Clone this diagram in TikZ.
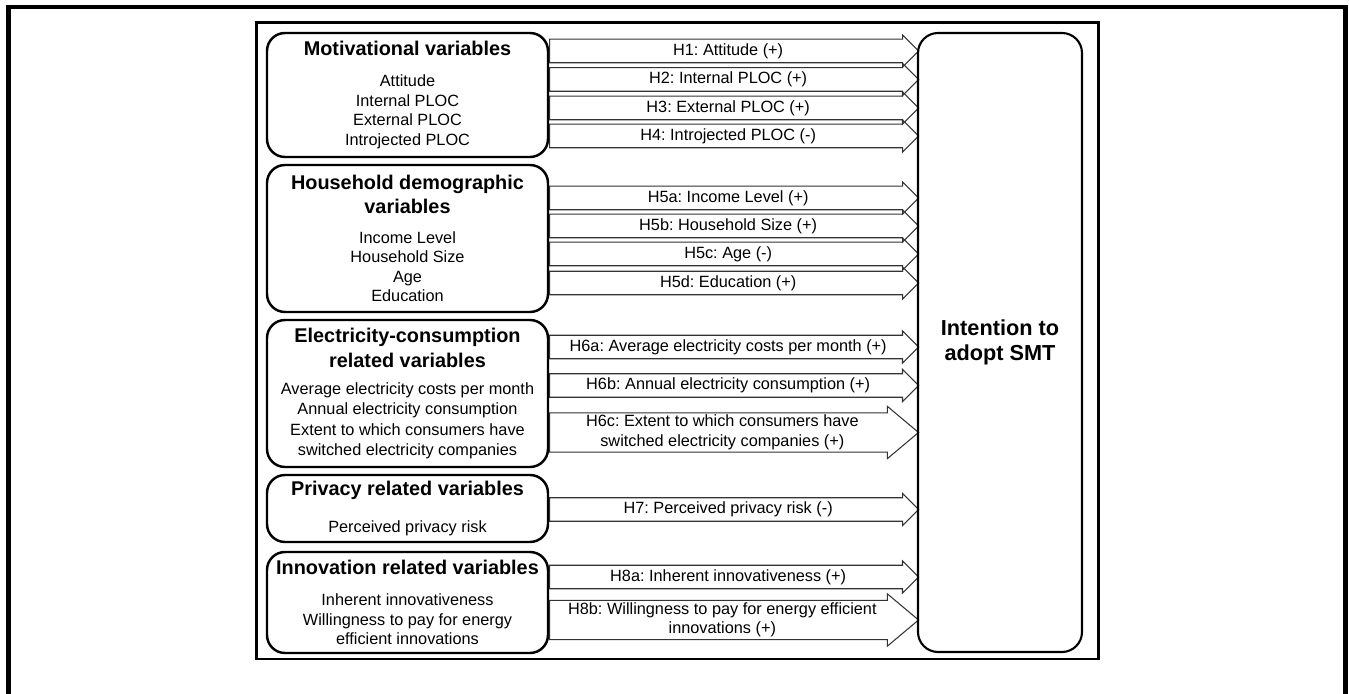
\documentclass[tikz,border=0pt]{standalone}
\usepackage{fontspec}
\setmainfont{Liberation Sans}
\usetikzlibrary{shapes.arrows}

\newcommand{\itemsize}{\fontsize{9.27pt}{11.1pt}\selectfont}
\newcommand{\titlesize}{\fontsize{11.3pt}{11.1pt}\selectfont\bfseries}
\frenchspacing

\begin{document}
\begin{tikzpicture}[
	% Groups of explanatory variables
	varBox/.style={
		draw=black,
		line width=1.4pt,
		rounded corners=0.36cm,
		minimum width=5.62cm,
		inner sep=0pt,
		align=center,
		font=\itemsize
	},
	% Dependent variable
	targetBox/.style={
		draw=black,
		line width=1.2pt,
		rounded corners=0.4cm,
		minimum width=3.28cm,
		minimum height=12.38cm,
		align=center,
		font=\fontsize{12.35pt}{14.2pt}\selectfont\bfseries
	},
	% Hypothesis arrows
	hypArrow/.style={
		single arrow,
		draw=black!80,
		line width=0.6pt,
		minimum height=7.38cm,
		single arrow head extend=0.085cm,
		single arrow tip angle=90,
		text height=7pt,
		text depth=2.2pt,
		inner ysep=1.8pt,
		inner xsep=2pt,
		anchor=west,
		font=\itemsize
	},
	hypArrowWide/.style={
		single arrow,
		draw=black!80,
		line width=0.6pt,
		minimum height=7.38cm,
		single arrow head extend=0.13cm,
		single arrow tip angle=80,
		inner ysep=1pt,
		inner xsep=2pt,
		align=center,
		anchor=west,
		font=\itemsize
	}
	]
	
	\useasboundingbox (0,0) rectangle (26.98,13.88);
	
	% Page frame and figure frame
	\draw[line width=2.3pt] (0.17,-0.5) -- (0.17,13.74) -- (26.91,13.74) -- (26.91,-0.5);
	\draw[line width=1.7pt] (5.13,0.70) rectangle (21.97,13.43);
	
	% Hypotheses
	\node[hypArrow] (h1) at (10.98,12.86) {H1: Attitude (+)};
	\node[hypArrow] (h2) at (10.98,12.29) {H2: Internal PLOC (+)};
	\node[hypArrow] (h3) at (10.98,11.72) {H3: External PLOC (+)};
	\node[hypArrow] (h4) at (10.98,11.16) {H4: Introjected PLOC (-)};
	
	\node[hypArrow] (h5a) at (10.98,9.92) {H5a: Income Level (+)};
	\node[hypArrow] (h5b) at (10.98,9.36) {H5b: Household Size (+)};
	\node[hypArrow] (h5c) at (10.98,8.80) {H5c: Age (-)};
	\node[hypArrow] (h5d) at (10.98,8.22) {H5d: Education (+)};
	
	\node[hypArrow] (h6a) at (10.98,6.94) {H6a: Average electricity costs per month (+)};
	\node[hypArrow] (h6b) at (10.98,6.17) {H6b: Annual electricity consumption (+)};
	\node[hypArrowWide] (h6c) at (10.98,5.23)
	{H6c: Extent to which consumers have\\switched electricity companies (+)};
	
	\node[hypArrow] (h7) at (10.98,3.69) {H7: Perceived privacy risk (-)};
	
	\node[hypArrow] (h8a) at (10.98,2.34) {H8a: Inherent innovativeness (+)};
	\node[hypArrowWide] (h8b) at (10.98,1.48)
	{H8b: Willingness to pay for energy efficient\\innovations (+)};
	
	% Variable groups
	\node[varBox, minimum height=2.48cm] (motiv) at (8.15,11.98)
	{{\titlesize Motivational variables}\\[6.5pt]
		Attitude\\ Internal PLOC\\ External PLOC\\ Introjected PLOC};
	
	\node[varBox, minimum height=2.94cm] (house) at (8.15,9.11)
	{{\titlesize Household demographic}\\[2.6pt]
		{\titlesize variables}\\[6pt]
		Income Level\\ Household Size\\ Age\\ Education};
	
	\node[varBox, minimum height=2.94cm] (elec) at (8.15,6.01)
	{{\titlesize Electricity-consumption}\\[3.1pt]
		{\titlesize related variables}\\[4.3pt]
		Average electricity costs per month\\[0.5pt]
		Annual electricity consumption\\[0.5pt]
		Extent to which consumers have\\[0.5pt]
		switched electricity companies};
	
	\node[varBox, minimum height=1.34cm] (priv) at (8.15,3.71)
	{{\titlesize Privacy related variables}\\[9.4pt]
		Perceived privacy risk};
	
	\node[varBox, minimum height=2.02cm] (innov) at (8.15,1.83)
	{{\titlesize Innovation related variables}\\[6.5pt]
		Inherent innovativeness\\ Willingness to pay for energy\\ efficient innovations};
	
	% Outcome
	\node[targetBox] (smt) at (20.0,7.03) {Intention to\\adopt SMT};
	
\end{tikzpicture}
\end{document}
